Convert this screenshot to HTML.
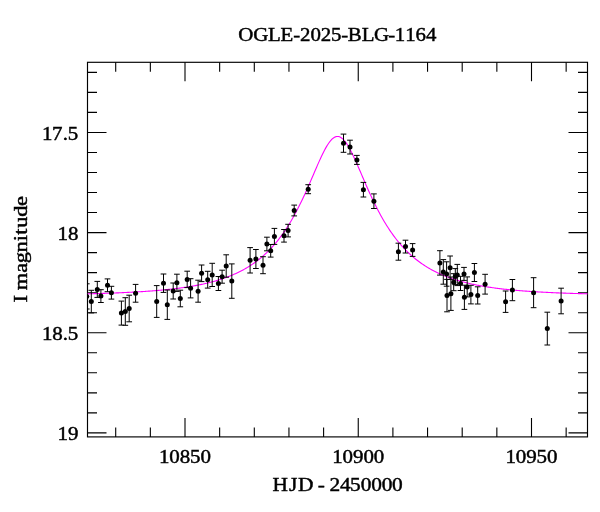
<!DOCTYPE html>
<html><head><meta charset="utf-8"><title>OGLE-2025-BLG-1164</title>
<style>html,body{margin:0;padding:0;background:#fff}svg{display:block}text{font-family:"Liberation Serif","DejaVu Serif",serif;fill:#000;stroke:#000;stroke-width:0.45px}</style></head><body>
<svg width="600" height="512" viewBox="0 0 600 512">
<rect width="600" height="512" fill="#fff"/>
<defs><clipPath id="c"><rect x="87.0" y="62.3" width="501.0" height="374.59999999999997"/></clipPath></defs>
<path d="M115.70,436.9v-9.5M115.70,62.3v9.5M150.35,436.9v-9.5M150.35,62.3v9.5M185.00,436.9v-19M185.00,62.3v19M219.65,436.9v-9.5M219.65,62.3v9.5M254.30,436.9v-9.5M254.30,62.3v9.5M288.95,436.9v-9.5M288.95,62.3v9.5M323.60,436.9v-9.5M323.60,62.3v9.5M358.25,436.9v-19M358.25,62.3v19M392.90,436.9v-9.5M392.90,62.3v9.5M427.55,436.9v-9.5M427.55,62.3v9.5M462.20,436.9v-9.5M462.20,62.3v9.5M496.85,436.9v-9.5M496.85,62.3v9.5M531.50,436.9v-19M531.50,62.3v19M566.15,436.9v-9.5M566.15,62.3v9.5M87.5,72.36h9.5M587.5,72.36h-9.5M87.5,92.39h9.5M587.5,92.39h-9.5M87.5,112.42h9.5M587.5,112.42h-9.5M87.5,132.45h19M587.5,132.45h-19M87.5,152.48h9.5M587.5,152.48h-9.5M87.5,172.51h9.5M587.5,172.51h-9.5M87.5,192.54h9.5M587.5,192.54h-9.5M87.5,212.57h9.5M587.5,212.57h-9.5M87.5,232.60h19M587.5,232.60h-19M87.5,252.63h9.5M587.5,252.63h-9.5M87.5,272.66h9.5M587.5,272.66h-9.5M87.5,292.69h9.5M587.5,292.69h-9.5M87.5,312.72h9.5M587.5,312.72h-9.5M87.5,332.75h19M587.5,332.75h-19M87.5,352.78h9.5M587.5,352.78h-9.5M87.5,372.81h9.5M587.5,372.81h-9.5M87.5,392.84h9.5M587.5,392.84h-9.5M87.5,412.87h9.5M587.5,412.87h-9.5M87.5,432.90h19M587.5,432.90h-19" stroke="#000" stroke-width="1.1" fill="none"/>
<rect x="87.5" y="62.3" width="500.0" height="374.59999999999997" fill="none" stroke="#000" stroke-width="1.15"/>
<path d="M87.5,293.83 L88.5,293.81 L89.5,293.78 L90.5,293.76 L91.5,293.73 L92.5,293.70 L93.5,293.68 L94.5,293.65 L95.5,293.62 L96.5,293.59 L97.5,293.56 L98.5,293.53 L99.5,293.50 L100.5,293.47 L101.5,293.44 L102.5,293.41 L103.5,293.38 L104.5,293.34 L105.5,293.31 L106.5,293.28 L107.5,293.24 L108.5,293.21 L109.5,293.17 L110.5,293.14 L111.5,293.10 L112.5,293.06 L113.5,293.03 L114.5,292.99 L115.5,292.95 L116.5,292.91 L117.5,292.87 L118.5,292.83 L119.5,292.78 L120.5,292.74 L121.5,292.70 L122.5,292.65 L123.5,292.61 L124.5,292.56 L125.5,292.51 L126.5,292.47 L127.5,292.42 L128.5,292.37 L129.5,292.32 L130.5,292.27 L131.5,292.22 L132.5,292.16 L133.5,292.11 L134.5,292.05 L135.5,292.00 L136.5,291.94 L137.5,291.88 L138.5,291.82 L139.5,291.76 L140.5,291.70 L141.5,291.64 L142.5,291.58 L143.5,291.51 L144.5,291.44 L145.5,291.38 L146.5,291.31 L147.5,291.24 L148.5,291.17 L149.5,291.09 L150.5,291.02 L151.5,290.94 L152.5,290.87 L153.5,290.79 L154.5,290.71 L155.5,290.63 L156.5,290.54 L157.5,290.46 L158.5,290.37 L159.5,290.29 L160.5,290.20 L161.5,290.10 L162.5,290.01 L163.5,289.92 L164.5,289.82 L165.5,289.72 L166.5,289.62 L167.5,289.52 L168.5,289.41 L169.5,289.30 L170.5,289.19 L171.5,289.08 L172.5,288.97 L173.5,288.85 L174.5,288.73 L175.5,288.61 L176.5,288.49 L177.5,288.36 L178.5,288.24 L179.5,288.10 L180.5,287.97 L181.5,287.83 L182.5,287.69 L183.5,287.55 L184.5,287.41 L185.5,287.26 L186.5,287.11 L187.5,286.95 L188.5,286.79 L189.5,286.63 L190.5,286.47 L191.5,286.30 L192.5,286.13 L193.5,285.95 L194.5,285.77 L195.5,285.59 L196.5,285.40 L197.5,285.21 L198.5,285.01 L199.5,284.81 L200.5,284.61 L201.5,284.40 L202.5,284.19 L203.5,283.97 L204.5,283.75 L205.5,283.52 L206.5,283.29 L207.5,283.05 L208.5,282.81 L209.5,282.56 L210.5,282.30 L211.5,282.04 L212.5,281.78 L213.5,281.51 L214.5,281.23 L215.5,280.94 L216.5,280.65 L217.5,280.36 L218.5,280.05 L219.5,279.74 L220.5,279.42 L221.5,279.10 L222.5,278.77 L223.5,278.43 L224.5,278.08 L225.5,277.72 L226.5,277.36 L227.5,276.98 L228.5,276.60 L229.5,276.21 L230.5,275.81 L231.5,275.40 L232.5,274.98 L233.5,274.56 L234.5,274.12 L235.5,273.67 L236.5,273.21 L237.5,272.74 L238.5,272.26 L239.5,271.76 L240.5,271.26 L241.5,270.74 L242.5,270.21 L243.5,269.67 L244.5,269.11 L245.5,268.54 L246.5,267.96 L247.5,267.37 L248.5,266.75 L249.5,266.13 L250.5,265.49 L251.5,264.83 L252.5,264.16 L253.5,263.47 L254.5,262.77 L255.5,262.04 L256.5,261.30 L257.5,260.54 L258.5,259.77 L259.5,258.97 L260.5,258.16 L261.5,257.32 L262.5,256.46 L263.5,255.59 L264.5,254.69 L265.5,253.77 L266.5,252.83 L267.5,251.86 L268.5,250.87 L269.5,249.86 L270.5,248.82 L271.5,247.75 L272.5,246.66 L273.5,245.55 L274.5,244.40 L275.5,243.23 L276.5,242.03 L277.5,240.80 L278.5,239.54 L279.5,238.25 L280.5,236.94 L281.5,235.58 L282.5,234.20 L283.5,232.79 L284.5,231.34 L285.5,229.86 L286.5,228.34 L287.5,226.79 L288.5,225.20 L289.5,223.58 L290.5,221.92 L291.5,220.23 L292.5,218.50 L293.5,216.73 L294.5,214.93 L295.5,213.09 L296.5,211.21 L297.5,209.29 L298.5,207.34 L299.5,205.35 L300.5,203.33 L301.5,201.27 L302.5,199.18 L303.5,197.05 L304.5,194.90 L305.5,192.71 L306.5,190.49 L307.5,188.25 L308.5,185.99 L309.5,183.70 L310.5,181.40 L311.5,179.08 L312.5,176.75 L313.5,174.42 L314.5,172.09 L315.5,169.76 L316.5,167.44 L317.5,165.15 L318.5,162.87 L319.5,160.63 L320.5,158.43 L321.5,156.28 L322.5,154.19 L323.5,152.17 L324.5,150.23 L325.5,148.37 L326.5,146.62 L327.5,144.97 L328.5,143.44 L329.5,142.04 L330.5,140.78 L331.5,139.67 L332.5,138.71 L333.5,137.92 L334.5,137.30 L335.5,136.85 L336.5,136.57 L337.5,136.48 L338.5,136.57 L339.5,136.84 L340.5,137.29 L341.5,137.91 L342.5,138.70 L343.5,139.66 L344.5,140.77 L345.5,142.03 L346.5,143.42 L347.5,144.95 L348.5,146.60 L349.5,148.35 L350.5,150.21 L351.5,152.15 L352.5,154.17 L353.5,156.26 L354.5,158.41 L355.5,160.61 L356.5,162.85 L357.5,165.12 L358.5,167.42 L359.5,169.74 L360.5,172.06 L361.5,174.40 L362.5,176.73 L363.5,179.05 L364.5,181.37 L365.5,183.68 L366.5,185.96 L367.5,188.23 L368.5,190.47 L369.5,192.69 L370.5,194.87 L371.5,197.03 L372.5,199.16 L373.5,201.25 L374.5,203.31 L375.5,205.33 L376.5,207.32 L377.5,209.27 L378.5,211.19 L379.5,213.07 L380.5,214.91 L381.5,216.71 L382.5,218.48 L383.5,220.21 L384.5,221.91 L385.5,223.56 L386.5,225.19 L387.5,226.77 L388.5,228.32 L389.5,229.84 L390.5,231.32 L391.5,232.77 L392.5,234.19 L393.5,235.57 L394.5,236.92 L395.5,238.24 L396.5,239.53 L397.5,240.79 L398.5,242.02 L399.5,243.22 L400.5,244.39 L401.5,245.53 L402.5,246.65 L403.5,247.74 L404.5,248.81 L405.5,249.84 L406.5,250.86 L407.5,251.85 L408.5,252.82 L409.5,253.76 L410.5,254.68 L411.5,255.58 L412.5,256.45 L413.5,257.31 L414.5,258.15 L415.5,258.96 L416.5,259.76 L417.5,260.54 L418.5,261.29 L419.5,262.03 L420.5,262.76 L421.5,263.46 L422.5,264.15 L423.5,264.82 L424.5,265.48 L425.5,266.12 L426.5,266.75 L427.5,267.36 L428.5,267.96 L429.5,268.54 L430.5,269.11 L431.5,269.66 L432.5,270.20 L433.5,270.73 L434.5,271.25 L435.5,271.76 L436.5,272.25 L437.5,272.73 L438.5,273.20 L439.5,273.66 L440.5,274.11 L441.5,274.55 L442.5,274.98 L443.5,275.40 L444.5,275.81 L445.5,276.21 L446.5,276.60 L447.5,276.98 L448.5,277.35 L449.5,277.72 L450.5,278.07 L451.5,278.42 L452.5,278.76 L453.5,279.10 L454.5,279.42 L455.5,279.74 L456.5,280.05 L457.5,280.35 L458.5,280.65 L459.5,280.94 L460.5,281.23 L461.5,281.50 L462.5,281.77 L463.5,282.04 L464.5,282.30 L465.5,282.55 L466.5,282.80 L467.5,283.05 L468.5,283.28 L469.5,283.52 L470.5,283.74 L471.5,283.97 L472.5,284.19 L473.5,284.40 L474.5,284.61 L475.5,284.81 L476.5,285.01 L477.5,285.21 L478.5,285.40 L479.5,285.59 L480.5,285.77 L481.5,285.95 L482.5,286.12 L483.5,286.30 L484.5,286.46 L485.5,286.63 L486.5,286.79 L487.5,286.95 L488.5,287.10 L489.5,287.26 L490.5,287.40 L491.5,287.55 L492.5,287.69 L493.5,287.83 L494.5,287.97 L495.5,288.10 L496.5,288.23 L497.5,288.36 L498.5,288.49 L499.5,288.61 L500.5,288.73 L501.5,288.85 L502.5,288.97 L503.5,289.08 L504.5,289.19 L505.5,289.30 L506.5,289.41 L507.5,289.51 L508.5,289.62 L509.5,289.72 L510.5,289.82 L511.5,289.91 L512.5,290.01 L513.5,290.10 L514.5,290.20 L515.5,290.28 L516.5,290.37 L517.5,290.46 L518.5,290.54 L519.5,290.63 L520.5,290.71 L521.5,290.79 L522.5,290.87 L523.5,290.94 L524.5,291.02 L525.5,291.09 L526.5,291.17 L527.5,291.24 L528.5,291.31 L529.5,291.38 L530.5,291.44 L531.5,291.51 L532.5,291.57 L533.5,291.64 L534.5,291.70 L535.5,291.76 L536.5,291.82 L537.5,291.88 L538.5,291.94 L539.5,292.00 L540.5,292.05 L541.5,292.11 L542.5,292.16 L543.5,292.22 L544.5,292.27 L545.5,292.32 L546.5,292.37 L547.5,292.42 L548.5,292.47 L549.5,292.51 L550.5,292.56 L551.5,292.61 L552.5,292.65 L553.5,292.70 L554.5,292.74 L555.5,292.78 L556.5,292.83 L557.5,292.87 L558.5,292.91 L559.5,292.95 L560.5,292.99 L561.5,293.03 L562.5,293.06 L563.5,293.10 L564.5,293.14 L565.5,293.17 L566.5,293.21 L567.5,293.24 L568.5,293.28 L569.5,293.31 L570.5,293.34 L571.5,293.38 L572.5,293.41 L573.5,293.44 L574.5,293.47 L575.5,293.50 L576.5,293.53 L577.5,293.56 L578.5,293.59 L579.5,293.62 L580.5,293.65 L581.5,293.67 L582.5,293.70 L583.5,293.73 L584.5,293.75 L585.5,293.78 L586.5,293.81 L587.5,293.83" stroke="#ff00ff" stroke-width="1.1" fill="none" clip-path="url(#c)"/>
<g clip-path="url(#c)" stroke="#000" stroke-width="1" fill="#000">
<path d="M86.8,283.8V309.0M83.95,283.8h5.7M83.95,309.0h5.7" fill="none"/><circle cx="86.8" cy="296.4" r="2.5" stroke="none"/>
<path d="M91.3,290.3V312.9M88.45,290.3h5.7M88.45,312.9h5.7" fill="none"/><circle cx="91.3" cy="301.6" r="2.5" stroke="none"/>
<path d="M97.3,281.4V297.4M94.45,281.4h5.7M94.45,297.4h5.7" fill="none"/><circle cx="97.3" cy="289.4" r="2.5" stroke="none"/>
<path d="M100.9,289.7V302.5M98.05,289.7h5.7M98.05,302.5h5.7" fill="none"/><circle cx="100.9" cy="296.1" r="2.5" stroke="none"/>
<path d="M107.5,278.9V291.7M104.65,278.9h5.7M104.65,291.7h5.7" fill="none"/><circle cx="107.5" cy="285.3" r="2.5" stroke="none"/>
<path d="M111.4,286.3V299.1M108.55,286.3h5.7M108.55,299.1h5.7" fill="none"/><circle cx="111.4" cy="292.7" r="2.5" stroke="none"/>
<path d="M121.4,301.1V325.1M118.55,301.1h5.7M118.55,325.1h5.7" fill="none"/><circle cx="121.4" cy="313.1" r="2.5" stroke="none"/>
<path d="M125.3,297.7V325.3M122.45,297.7h5.7M122.45,325.3h5.7" fill="none"/><circle cx="125.3" cy="311.5" r="2.5" stroke="none"/>
<path d="M129.2,295.2V321.8M126.35,295.2h5.7M126.35,321.8h5.7" fill="none"/><circle cx="129.2" cy="308.5" r="2.5" stroke="none"/>
<path d="M135.6,284.4V302.2M132.75,284.4h5.7M132.75,302.2h5.7" fill="none"/><circle cx="135.6" cy="293.3" r="2.5" stroke="none"/>
<path d="M156.7,285.6V317.4M153.85,285.6h5.7M153.85,317.4h5.7" fill="none"/><circle cx="156.7" cy="301.5" r="2.5" stroke="none"/>
<path d="M163.5,274.0V292.4M160.65,274.0h5.7M160.65,292.4h5.7" fill="none"/><circle cx="163.5" cy="283.2" r="2.5" stroke="none"/>
<path d="M167.3,290.0V319.4M164.45,290.0h5.7M164.45,319.4h5.7" fill="none"/><circle cx="167.3" cy="304.7" r="2.5" stroke="none"/>
<path d="M173.2,283.0V299.0M170.35,283.0h5.7M170.35,299.0h5.7" fill="none"/><circle cx="173.2" cy="291.0" r="2.5" stroke="none"/>
<path d="M176.9,274.2V291.4M174.05,274.2h5.7M174.05,291.4h5.7" fill="none"/><circle cx="176.9" cy="282.8" r="2.5" stroke="none"/>
<path d="M180.3,290.2V306.8M177.45,290.2h5.7M177.45,306.8h5.7" fill="none"/><circle cx="180.3" cy="298.5" r="2.5" stroke="none"/>
<path d="M187.2,271.2V287.6M184.35,271.2h5.7M184.35,287.6h5.7" fill="none"/><circle cx="187.2" cy="279.4" r="2.5" stroke="none"/>
<path d="M190.6,278.7V297.9M187.75,278.7h5.7M187.75,297.9h5.7" fill="none"/><circle cx="190.6" cy="288.3" r="2.5" stroke="none"/>
<path d="M198.1,280.2V302.2M195.25,280.2h5.7M195.25,302.2h5.7" fill="none"/><circle cx="198.1" cy="291.2" r="2.5" stroke="none"/>
<path d="M201.6,265.0V281.6M198.75,265.0h5.7M198.75,281.6h5.7" fill="none"/><circle cx="201.6" cy="273.3" r="2.5" stroke="none"/>
<path d="M207.7,271.3V288.1M204.85,271.3h5.7M204.85,288.1h5.7" fill="none"/><circle cx="207.7" cy="279.7" r="2.5" stroke="none"/>
<path d="M212.2,263.3V286.5M209.35,263.3h5.7M209.35,286.5h5.7" fill="none"/><circle cx="212.2" cy="274.9" r="2.5" stroke="none"/>
<path d="M218.4,276.5V290.5M215.55,276.5h5.7M215.55,290.5h5.7" fill="none"/><circle cx="218.4" cy="283.5" r="2.5" stroke="none"/>
<path d="M222.1,270.2V283.2M219.25,270.2h5.7M219.25,283.2h5.7" fill="none"/><circle cx="222.1" cy="276.7" r="2.5" stroke="none"/>
<path d="M226.2,254.8V277.2M223.35,254.8h5.7M223.35,277.2h5.7" fill="none"/><circle cx="226.2" cy="266.0" r="2.5" stroke="none"/>
<path d="M231.8,263.9V298.3M228.95,263.9h5.7M228.95,298.3h5.7" fill="none"/><circle cx="231.8" cy="281.1" r="2.5" stroke="none"/>
<path d="M250.1,247.6V273.0M247.25,247.6h5.7M247.25,273.0h5.7" fill="none"/><circle cx="250.1" cy="260.3" r="2.5" stroke="none"/>
<path d="M255.9,249.5V268.5M253.05,249.5h5.7M253.05,268.5h5.7" fill="none"/><circle cx="255.9" cy="259.0" r="2.5" stroke="none"/>
<path d="M263.0,256.7V273.7M260.15,256.7h5.7M260.15,273.7h5.7" fill="none"/><circle cx="263.0" cy="265.2" r="2.5" stroke="none"/>
<path d="M266.9,237.2V250.8M264.05,237.2h5.7M264.05,250.8h5.7" fill="none"/><circle cx="266.9" cy="244.0" r="2.5" stroke="none"/>
<path d="M270.7,244.5V257.1M267.85,244.5h5.7M267.85,257.1h5.7" fill="none"/><circle cx="270.7" cy="250.8" r="2.5" stroke="none"/>
<path d="M274.4,228.4V244.4M271.55,228.4h5.7M271.55,244.4h5.7" fill="none"/><circle cx="274.4" cy="236.4" r="2.5" stroke="none"/>
<path d="M284.0,229.5V242.1M281.15,229.5h5.7M281.15,242.1h5.7" fill="none"/><circle cx="284.0" cy="235.8" r="2.5" stroke="none"/>
<path d="M288.1,224.3V236.9M285.25,224.3h5.7M285.25,236.9h5.7" fill="none"/><circle cx="288.1" cy="230.6" r="2.5" stroke="none"/>
<path d="M294.2,205.1V215.9M291.35,205.1h5.7M291.35,215.9h5.7" fill="none"/><circle cx="294.2" cy="210.5" r="2.5" stroke="none"/>
<path d="M308.2,184.7V193.7M305.35,184.7h5.7M305.35,193.7h5.7" fill="none"/><circle cx="308.2" cy="189.2" r="2.5" stroke="none"/>
<path d="M343.5,134.1V152.3M340.65,134.1h5.7M340.65,152.3h5.7" fill="none"/><circle cx="343.5" cy="143.2" r="2.5" stroke="none"/>
<path d="M350.0,140.2V154.0M347.15,140.2h5.7M347.15,154.0h5.7" fill="none"/><circle cx="350.0" cy="147.1" r="2.5" stroke="none"/>
<path d="M356.9,155.4V164.4M354.05,155.4h5.7M354.05,164.4h5.7" fill="none"/><circle cx="356.9" cy="159.9" r="2.5" stroke="none"/>
<path d="M363.4,182.4V197.0M360.55,182.4h5.7M360.55,197.0h5.7" fill="none"/><circle cx="363.4" cy="189.7" r="2.5" stroke="none"/>
<path d="M373.9,193.9V208.5M371.05,193.9h5.7M371.05,208.5h5.7" fill="none"/><circle cx="373.9" cy="201.2" r="2.5" stroke="none"/>
<path d="M398.4,243.2V260.2M395.55,243.2h5.7M395.55,260.2h5.7" fill="none"/><circle cx="398.4" cy="251.7" r="2.5" stroke="none"/>
<path d="M405.5,240.2V253.0M402.65,240.2h5.7M402.65,253.0h5.7" fill="none"/><circle cx="405.5" cy="246.6" r="2.5" stroke="none"/>
<path d="M412.6,243.6V256.4M409.75,243.6h5.7M409.75,256.4h5.7" fill="none"/><circle cx="412.6" cy="250.0" r="2.5" stroke="none"/>
<path d="M439.9,250.7V275.1M437.05,250.7h5.7M437.05,275.1h5.7" fill="none"/><circle cx="439.9" cy="262.9" r="2.5" stroke="none"/>
<path d="M443.3,259.6V284.2M440.45,259.6h5.7M440.45,284.2h5.7" fill="none"/><circle cx="443.3" cy="271.9" r="2.5" stroke="none"/>
<path d="M446.6,261.8V286.2M443.75,261.8h5.7M443.75,286.2h5.7" fill="none"/><circle cx="446.6" cy="274.0" r="2.5" stroke="none"/>
<path d="M447.0,279.4V311.8M444.15,279.4h5.7M444.15,311.8h5.7" fill="none"/><circle cx="447.0" cy="295.6" r="2.5" stroke="none"/>
<path d="M450.1,256.0V279.4M447.25,256.0h5.7M447.25,279.4h5.7" fill="none"/><circle cx="450.1" cy="267.7" r="2.5" stroke="none"/>
<path d="M450.9,277.0V310.4M448.05,277.0h5.7M448.05,310.4h5.7" fill="none"/><circle cx="450.9" cy="293.7" r="2.5" stroke="none"/>
<path d="M453.7,273.7V290.7M450.85,273.7h5.7M450.85,290.7h5.7" fill="none"/><circle cx="453.7" cy="282.2" r="2.5" stroke="none"/>
<path d="M455.3,268.6V284.6M452.45,268.6h5.7M452.45,284.6h5.7" fill="none"/><circle cx="455.3" cy="276.6" r="2.5" stroke="none"/>
<path d="M457.3,264.4V285.6M454.45,264.4h5.7M454.45,285.6h5.7" fill="none"/><circle cx="457.3" cy="275.0" r="2.5" stroke="none"/>
<path d="M460.5,276.3V290.5M457.65,276.3h5.7M457.65,290.5h5.7" fill="none"/><circle cx="460.5" cy="283.4" r="2.5" stroke="none"/>
<path d="M464.0,267.4V280.4M461.15,267.4h5.7M461.15,280.4h5.7" fill="none"/><circle cx="464.0" cy="273.9" r="2.5" stroke="none"/>
<path d="M464.4,285.2V309.4M461.55,285.2h5.7M461.55,309.4h5.7" fill="none"/><circle cx="464.4" cy="297.3" r="2.5" stroke="none"/>
<path d="M467.2,276.9V296.9M464.35,276.9h5.7M464.35,296.9h5.7" fill="none"/><circle cx="467.2" cy="286.9" r="2.5" stroke="none"/>
<path d="M470.9,285.3V303.9M468.05,285.3h5.7M468.05,303.9h5.7" fill="none"/><circle cx="470.9" cy="294.6" r="2.5" stroke="none"/>
<path d="M474.4,263.5V281.5M471.55,263.5h5.7M471.55,281.5h5.7" fill="none"/><circle cx="474.4" cy="272.5" r="2.5" stroke="none"/>
<path d="M477.7,286.8V304.0M474.85,286.8h5.7M474.85,304.0h5.7" fill="none"/><circle cx="477.7" cy="295.4" r="2.5" stroke="none"/>
<path d="M485.1,274.3V294.1M482.25,274.3h5.7M482.25,294.1h5.7" fill="none"/><circle cx="485.1" cy="284.2" r="2.5" stroke="none"/>
<path d="M505.6,291.0V312.4M502.75,291.0h5.7M502.75,312.4h5.7" fill="none"/><circle cx="505.6" cy="301.7" r="2.5" stroke="none"/>
<path d="M512.4,279.5V300.7M509.55,279.5h5.7M509.55,300.7h5.7" fill="none"/><circle cx="512.4" cy="290.1" r="2.5" stroke="none"/>
<path d="M533.6,277.7V307.7M530.75,277.7h5.7M530.75,307.7h5.7" fill="none"/><circle cx="533.6" cy="292.7" r="2.5" stroke="none"/>
<path d="M547.3,312.2V345.0M544.45,312.2h5.7M544.45,345.0h5.7" fill="none"/><circle cx="547.3" cy="328.6" r="2.5" stroke="none"/>
<path d="M561.1,288.2V313.8M558.25,288.2h5.7M558.25,313.8h5.7" fill="none"/><circle cx="561.1" cy="301.0" r="2.5" stroke="none"/>
</g>
<text transform="translate(238.51,40.60) scale(1.0548,1)" font-size="19.8" x="-0.23 13.87 27.90 39.83 52.00 58.23 68.14 77.99 87.65 97.45 103.52 116.80 128.45 141.89 148.23 158.11 167.79 177.76" y="0">OGLE-2025-BLG-1164</text>
<text transform="translate(272.36,491.40) scale(1.0804,1)" font-size="19.8" x="0.08 15.33 23.68 37.61 42.01 48.21 52.88 62.52 71.95 81.86 91.51 101.16 110.80" y="0">HJD - 2450000</text>
<text transform="translate(158.94,463.00) scale(1.0762,1)" font-size="19.5" x="0.05 9.66 19.34 28.77 38.72" y="0">10850</text>
<text transform="translate(332.19,463.00) scale(1.0721,1)" font-size="19.5" x="0.07 9.71 19.52 29.16 38.88" y="0">10900</text>
<text transform="translate(505.44,463.00) scale(1.0756,1)" font-size="19.5" x="0.05 9.66 19.44 28.79 38.74" y="0">10950</text>
<text transform="translate(41.91,139.65) scale(1.0719,1)" font-size="19.5" x="0.07 9.45 19.45 24.05" y="0">17.5</text>
<text transform="translate(57.55,239.80) scale(1.0757,1)" font-size="19.5" x="0.05 9.66" y="0">18</text>
<text transform="translate(41.91,339.95) scale(1.0736,1)" font-size="19.5" x="0.06 9.69 19.41 24.00" y="0">18.5</text>
<text transform="translate(57.55,440.10) scale(1.0741,1)" font-size="19.5" x="0.06 9.77" y="0">19</text>
<text transform="translate(27.00,302.53) rotate(-90) scale(1.1498,1)" font-size="19.5" x="0.06 6.64 10.78 25.91 34.23 43.52 53.21 59.02 65.08 74.57 83.97" y="0">I magnitude</text>
</svg></body></html>
